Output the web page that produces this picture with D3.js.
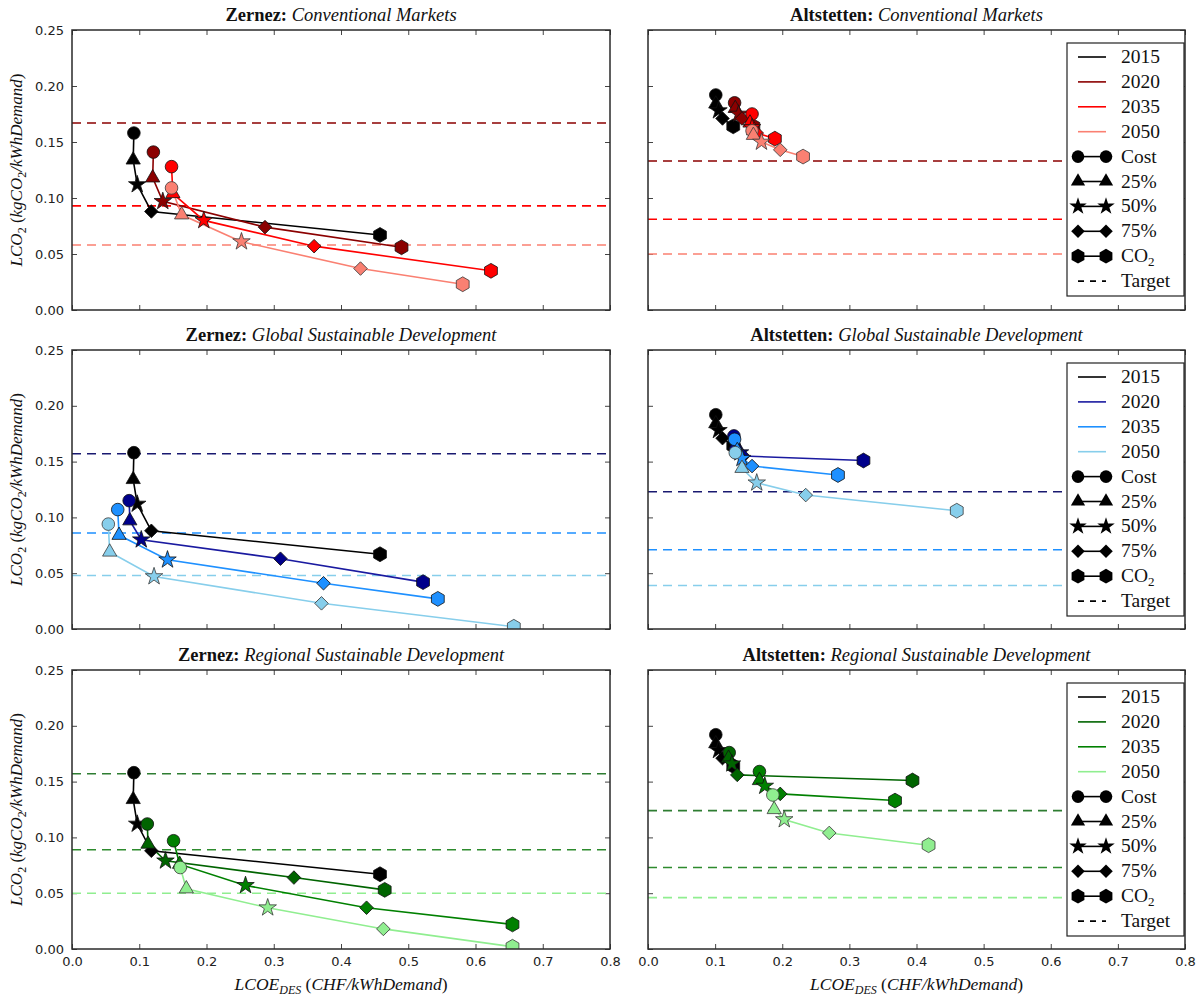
<!DOCTYPE html>
<html><head><meta charset="utf-8">
<script src="https://cdn.jsdelivr.net/npm/d3@7"></script>
<style>
body{margin:0;background:#fff;}
svg{display:block;}
.tick text{font-family:"DejaVu Sans",sans-serif;font-size:13px;fill:#222;}
.tick line{stroke:#444;}
.domain{display:none;}
</style></head><body>
<svg id="chart" width="1204" height="997"></svg>
<script>
// ---------- data ----------
const years = ["2015","2020","2035","2050"];
const steps = ["Cost","25%","50%","75%","CO2"];
const xTicks = [0,0.1,0.2,0.3,0.4,0.5,0.6,0.7,0.8];
const yTicks = [0,0.05,0.10,0.15,0.20,0.25];

// Zernez: Conventional Markets (rows: 2015, 2020, 2035, 2050)
const zernezCM_x = [[0.092,0.091,0.097,0.118,0.458],[0.121,0.120,0.135,0.287,0.490],[0.148,0.150,0.196,0.360,0.623],[0.148,0.163,0.252,0.429,0.581]];
const zernezCM_y = [[0.158,0.134,0.112,0.088,0.067],[0.141,0.118,0.097,0.074,0.056],[0.128,0.104,0.080,0.057,0.035],[0.109,0.085,0.061,0.037,0.023]];
const zernezCM_target = [0.167,0.093,0.058];

// Altstetten: Conventional Markets
const altCM_x = [[0.101,0.101,0.105,0.111,0.127],[0.129,0.130,0.135,0.140,0.157],[0.155,0.152,0.155,0.162,0.189],[0.155,0.157,0.169,0.197,0.231]];
const altCM_y = [[0.192,0.184,0.178,0.171,0.164],[0.185,0.180,0.175,0.171,0.164],[0.175,0.167,0.163,0.158,0.153],[0.160,0.156,0.150,0.143,0.137]];
const altCM_target = [0.133,0.081,0.050];

// Zernez: Global Sustainable Development
const zernezGSD_x = [[0.092,0.091,0.097,0.118,0.458],[0.085,0.086,0.103,0.310,0.522],[0.068,0.070,0.142,0.374,0.544],[0.054,0.056,0.122,0.371,0.657]];
const zernezGSD_y = [[0.158,0.134,0.112,0.088,0.067],[0.115,0.097,0.080,0.063,0.042],[0.107,0.084,0.062,0.041,0.027],[0.094,0.069,0.047,0.023,0.002]];
const zernezGSD_target = [0.157,0.086,0.048];

// Altstetten: Global Sustainable Development
const altGSD_x = [[0.101,0.101,0.105,0.111,0.127],[0.128,0.131,0.137,0.142,0.321],[0.129,0.133,0.140,0.155,0.283],[0.130,0.140,0.162,0.235,0.460]];
const altGSD_y = [[0.192,0.184,0.178,0.171,0.164],[0.173,0.165,0.158,0.155,0.151],[0.170,0.160,0.153,0.146,0.138],[0.158,0.144,0.131,0.120,0.106]];
const altGSD_target = [0.123,0.071,0.039];

// Zernez: Regional Sustainable Development
const zernezRSD_x = [[0.092,0.091,0.097,0.118,0.458],[0.112,0.113,0.139,0.330,0.465],[0.151,0.160,0.258,0.438,0.655],[0.161,0.170,0.291,0.463,0.655]];
const zernezRSD_y = [[0.158,0.134,0.112,0.088,0.067],[0.112,0.094,0.079,0.064,0.053],[0.097,0.076,0.057,0.037,0.022],[0.073,0.054,0.037,0.018,0.002]];
const zernezRSD_target = [0.157,0.089,0.050];

// Altstetten: Regional Sustainable Development
const altRSD_x = [[0.101,0.101,0.105,0.111,0.127],[0.121,0.120,0.125,0.133,0.394],[0.166,0.166,0.174,0.197,0.368],[0.186,0.188,0.203,0.270,0.418]];
const altRSD_y = [[0.192,0.184,0.178,0.171,0.164],[0.176,0.171,0.166,0.156,0.151],[0.159,0.151,0.146,0.139,0.133],[0.138,0.125,0.116,0.104,0.093]];
const altRSD_target = [0.124,0.073,0.046];

const colorsCM  = ["#000000","#8b0000","#ff0000","#fa8072"];
const colorsGSD = ["#000000","#00008b","#1e90ff","#87ceeb"];
const colorsRSD = ["#000000","#006400","#008000","#90ee90"];
const lineColorsGSD = ["#000000","#1a1aa0","#1e90ff","#87ceeb"];

// ---------- layout ----------
const svg = d3.select("#chart");
const cols = [{x0:72,x1:610},{x0:648,x1:1185}];
const rows = [{y0:30,y1:310},{y0:350,y1:629},{y0:670,y1:949}];
const serif = "'Liberation Serif','DejaVu Serif',serif";

const panels = [
  {r:0,c:0,place:"Zernez:",scen:"Conventional Markets",xs:zernezCM_x,ys:zernezCM_y,t:zernezCM_target,col:colorsCM,lcol:colorsCM,legend:false},
  {r:0,c:1,place:"Altstetten:",scen:"Conventional Markets",xs:altCM_x,ys:altCM_y,t:altCM_target,col:colorsCM,lcol:colorsCM,legend:true},
  {r:1,c:0,place:"Zernez:",scen:"Global Sustainable Development",xs:zernezGSD_x,ys:zernezGSD_y,t:zernezGSD_target,col:colorsGSD,lcol:lineColorsGSD,tcol:["#191970","#1e90ff","#87ceeb"],legend:false},
  {r:1,c:1,place:"Altstetten:",scen:"Global Sustainable Development",xs:altGSD_x,ys:altGSD_y,t:altGSD_target,col:colorsGSD,lcol:lineColorsGSD,tcol:["#191970","#1e90ff","#87ceeb"],legend:true},
  {r:2,c:0,place:"Zernez:",scen:"Regional Sustainable Development",xs:zernezRSD_x,ys:zernezRSD_y,t:zernezRSD_target,col:colorsRSD,lcol:colorsRSD,tcol:["#2e7d32","#2e8b2e","#90ee90"],legend:false},
  {r:2,c:1,place:"Altstetten:",scen:"Regional Sustainable Development",xs:altRSD_x,ys:altRSD_y,t:altRSD_target,col:colorsRSD,lcol:colorsRSD,tcol:["#2e7d32","#2e8b2e","#90ee90"],legend:true}
];

const hexPath = r => {
  const pts = d3.range(6).map(k => { const a = Math.PI/2 + k*Math.PI/3; return [r*Math.cos(a), -r*Math.sin(a)]; });
  return "M" + pts.map(p => p.join(",")).join("L") + "Z";
};
const markerPath = (i, k=1) => {
  switch(i){
    case 0: return d3.symbol(d3.symbolCircle, 125*k)();
    case 1: return d3.symbol(d3.symbolTriangle, 88*k)();
    case 2: return d3.symbol(d3.symbolStar, 95*k)();
    case 3: return d3.symbol(d3.symbolSquare, 92*k)();
    default: return hexPath(7.4*Math.sqrt(k));
  }
};
const markerRot = i => i===3 ? 45 : 0;

const defs = svg.append("defs");

panels.forEach((p, pi) => {
  const C = cols[p.c], R = rows[p.r];
  const x = d3.scaleLinear().domain([0,0.8]).range([C.x0, C.x1]);
  const y = d3.scaleLinear().domain([0,0.25]).range([R.y1, R.y0]);
  const g = svg.append("g");

  defs.append("clipPath").attr("id","clip"+pi).append("rect")
    .attr("x",C.x0).attr("y",R.y0).attr("width",C.x1-C.x0).attr("height",R.y1-R.y0);

  // axes (ticks inward on all sides)
  const left = g.append("g").attr("transform",`translate(${C.x0},0)`)
    .call(d3.axisLeft(y).tickValues(yTicks).tickSize(-5).tickPadding(8).tickFormat(d3.format(".2f")));
  if (p.c===1) left.selectAll("text").remove();
  g.append("g").attr("transform",`translate(${C.x1},0)`)
    .call(d3.axisRight(y).tickValues(yTicks).tickSize(-5)).selectAll("text").remove();
  g.append("g").attr("transform",`translate(0,${R.y0})`)
    .call(d3.axisTop(x).tickValues(xTicks).tickSize(-5)).selectAll("text").remove();
  const bottom = g.append("g").attr("transform",`translate(0,${R.y1})`)
    .call(d3.axisBottom(x).tickValues(xTicks).tickSize(-5).tickPadding(8).tickFormat(d3.format(".1f")));
  if (p.r!==2) bottom.selectAll("text").remove();
  g.selectAll(".tick line").attr("stroke","#444").attr("stroke-width",1);

  const plot = g.append("g").attr("clip-path",`url(#clip${pi})`);

  // targets
  const tcol = p.tcol || p.col.slice(1);
  p.t.forEach((tv, k) => {
    plot.append("line").attr("x1",C.x0).attr("x2",C.x1).attr("y1",y(tv)).attr("y2",y(tv))
      .attr("stroke",tcol[k]).attr("stroke-width",1.6).attr("stroke-dasharray","9,6");
  });

  // series
  const line = d3.line().x(d => x(d[0])).y(d => y(d[1]));
  years.forEach((yr, s) => {
    const pts = p.xs[s].map((v,i) => [v, p.ys[s][i]]);
    plot.append("path").attr("d", line(pts)).attr("fill","none")
      .attr("stroke", p.lcol[s]).attr("stroke-width",1.6);
  });
  years.forEach((yr, s) => {
    const pts = p.xs[s].map((v,i) => [v, p.ys[s][i]]);
    plot.selectAll(null).data(pts).join("path")
      .attr("d",(d,i) => markerPath(i))
      .attr("transform",(d,i) => `translate(${x(d[0])},${y(d[1])}) rotate(${markerRot(i)})`)
      .attr("fill", p.col[s]).attr("stroke", s===3 ? "#3a3a3a" : "#111").attr("stroke-width",0.8);
  });

  // frame
  g.append("rect").attr("x",C.x0).attr("y",R.y0).attr("width",C.x1-C.x0).attr("height",R.y1-R.y0)
    .attr("fill","none").attr("stroke","#2a2a2a").attr("stroke-width",1.5);

  // title
  const tt = g.append("text").attr("x",(C.x0+C.x1)/2).attr("y",R.y0-9).attr("text-anchor","middle")
    .attr("font-family",serif).attr("font-size",18.5).attr("fill","#111");
  tt.append("tspan").attr("font-weight","bold").text(p.place+" ");
  tt.append("tspan").attr("font-style","italic").text(p.scen);

  // y label
  if (p.c===0) {
    const cy = (R.y0+R.y1)/2;
    const yl = g.append("text").attr("transform",`translate(22,${cy}) rotate(-90)`).attr("text-anchor","middle")
      .attr("font-family",serif).attr("font-size",17).attr("fill","#111");
    yl.append("tspan").attr("font-style","italic").text("LCO");
    yl.append("tspan").attr("font-size",12).attr("dy",4).text("2");
    yl.append("tspan").attr("dy",-4).text(" (");
    yl.append("tspan").attr("font-style","italic").text("kgCO");
    yl.append("tspan").attr("font-size",12).attr("dy",4).text("2");
    yl.append("tspan").attr("dy",-4).attr("font-style","italic").text("/kWhDemand");
    yl.append("tspan").text(")");
  }
  // x label
  if (p.r===2) {
    const xl = g.append("text").attr("x",(C.x0+C.x1)/2).attr("y",990).attr("text-anchor","middle")
      .attr("font-family",serif).attr("font-size",17.5).attr("fill","#111");
    xl.append("tspan").attr("font-style","italic").text("LCOE");
    xl.append("tspan").attr("font-style","italic").attr("font-size",12).attr("dy",4).text("DES");
    xl.append("tspan").attr("dy",-4).text(" (");
    xl.append("tspan").attr("font-style","italic").text("CHF/kWhDemand");
    xl.append("tspan").text(")");
  }

  // legend
  if (p.legend) {
    const lx0 = 1067, lx1 = 1184, top = R.y0 + 13, bot = R.y0 + 266;
    const lg = g.append("g");
    lg.append("rect").attr("x",lx0).attr("y",top).attr("width",lx1-lx0).attr("height",bot-top)
      .attr("fill","#fff").attr("stroke","#222").attr("stroke-width",1.2);
    const entries = years.map((yr,s) => ({label:yr, color:p.lcol[s], marker:null}))
      .concat(steps.map((st,i) => ({label:st, color:"#000", marker:i})))
      .concat([{label:"Target", color:"#000", marker:null, dash:true}]);
    entries.forEach((e, k) => {
      const ey = R.y0 + 27 + k*24.9;
      lg.append("line").attr("x1",1078).attr("x2",1106).attr("y1",ey).attr("y2",ey)
        .attr("stroke",e.color).attr("stroke-width",1.6).attr("stroke-dasharray", e.dash ? "6,6" : null);
      if (e.marker !== null) {
        [1078,1106].forEach(mx => lg.append("path").attr("d",markerPath(e.marker))
          .attr("transform",`translate(${mx},${ey}) rotate(${markerRot(e.marker)})`).attr("fill","#000"));
      }
      const t = lg.append("text").attr("x",1121).attr("y",ey+6)
        .attr("font-family",serif).attr("font-size",19.5).attr("fill","#111");
      if (e.label==="CO2") {
        t.append("tspan").text("CO");
        t.append("tspan").attr("font-size",13).attr("dy",4).text("2");
      } else t.text(e.label);
    });
  }
});
</script>
</body></html>
